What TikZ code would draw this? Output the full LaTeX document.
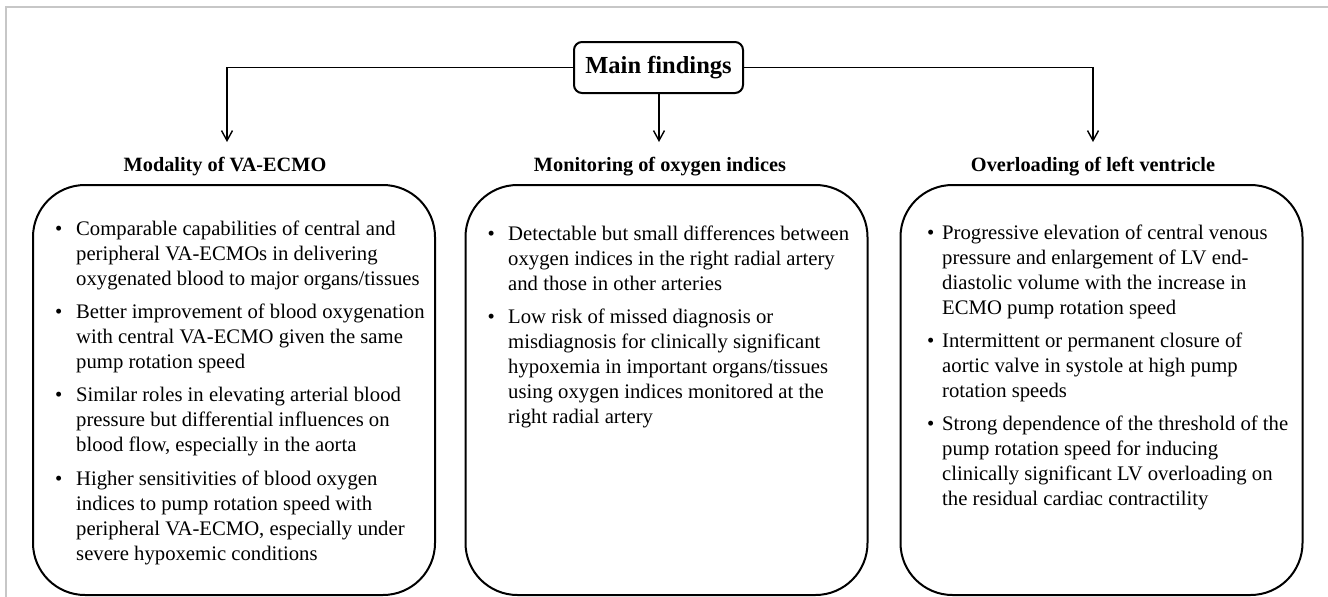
\documentclass[tikz,border=0pt]{standalone}
\usepackage{fontspec}
\setmainfont{Liberation Serif}
\usetikzlibrary{arrows.meta}
\begin{document}
\begin{tikzpicture}[x=1pt,y=-1pt,
  conn/.style={line width=1.7pt},
  arr/.style={conn,-{Straight Barb[length=10pt,width=11pt,line width=1.4pt]}},
  mainbox/.style={draw,line width=2pt,rounded corners=8pt,minimum width=169pt,minimum height=51pt,inner sep=0pt,font=\bfseries\fontsize{24.5}{28}\selectfont},
  heading/.style={anchor=base,inner sep=0pt,font=\bfseries\fontsize{20.3}{24}\selectfont},
  panel/.style={draw,line width=2pt,rounded corners=52pt,minimum width=402pt,minimum height=410pt,inner sep=0pt},
  body/.style={anchor=north west,inner sep=0pt,align=left,font=\fontsize{20.7}{25}\selectfont}
]
\useasboundingbox (0,0) rectangle (1328,597);
\draw[black!22,line width=1.3pt] (1328,7) -- (6,7) -- (6,597);

\node[mainbox] (main) at (658.5,67.5) {Main findings};

\node[heading] (h1) at (225,171) {Modality of VA-ECMO};
\node[heading] (h2) at (660,171) {Monitoring of oxygen indices};
\node[heading] (h3) at (1093,171) {Overloading of left ventricle};

\coordinate (a1) at (227,142);
\coordinate (a2) at (659,142);
\coordinate (a3) at (1093,142);

\draw[arr] (main.west) -| (a1);
\draw[arr] (main.east) -| (a3);
\draw[arr] (main.south -| a2) -- (a2);

\node[panel] (b1) at (234,390) {};
\node[panel] (b2) at (666.5,390) {};
\node[panel] (b3) at (1101.5,390) {};

\node[body] (t1) at (55,217.5) {%
\strut\makebox[21pt][l]{\textbullet}Comparable capabilities of central and\\
\hspace*{21pt}peripheral VA-ECMOs in delivering\\
\hspace*{21pt}oxygenated blood to major organs/tissues\\[8.3pt]
\makebox[21pt][l]{\textbullet}Better improvement of blood oxygenation\\
\hspace*{21pt}with central VA-ECMO given the same\\
\hspace*{21pt}pump rotation speed\\[8.3pt]
\makebox[21pt][l]{\textbullet}Similar roles in elevating arterial blood\\
\hspace*{21pt}pressure but differential influences on\\
\hspace*{21pt}blood flow, especially in the aorta\\[8.3pt]
\makebox[21pt][l]{\textbullet}Higher sensitivities of blood oxygen\\
\hspace*{21pt}indices to pump rotation speed with\\
\hspace*{21pt}peripheral VA-ECMO, especially under\\
\hspace*{21pt}severe hypoxemic conditions};

\node[body] (t2) at (487.5,222.5) {%
\strut\makebox[20.5pt][l]{\textbullet}Detectable but small differences between\\
\hspace*{20.5pt}oxygen indices in the right radial artery\\
\hspace*{20.5pt}and those in other arteries\\[8.3pt]
\makebox[20.5pt][l]{\textbullet}Low risk of missed diagnosis or\\
\hspace*{20.5pt}misdiagnosis for clinically significant\\
\hspace*{20.5pt}hypoxemia in important organs/tissues\\
\hspace*{20.5pt}using oxygen indices monitored at the\\
\hspace*{20.5pt}right radial artery};

\node[body] (t3) at (927,221.5) {%
\strut\makebox[15pt][l]{\textbullet}Progressive elevation of central venous\\
\hspace*{15pt}pressure and enlargement of LV end-\\
\hspace*{15pt}diastolic volume with the increase in\\
\hspace*{15pt}ECMO pump rotation speed\\[8.3pt]
\makebox[15pt][l]{\textbullet}Intermittent or permanent closure of\\
\hspace*{15pt}aortic valve in systole at high pump\\
\hspace*{15pt}rotation speeds\\[8.3pt]
\makebox[15pt][l]{\textbullet}Strong dependence of the threshold of the\\
\hspace*{15pt}pump rotation speed for inducing\\
\hspace*{15pt}clinically significant LV overloading on\\
\hspace*{15pt}the residual cardiac contractility};
\end{tikzpicture}
\end{document}
